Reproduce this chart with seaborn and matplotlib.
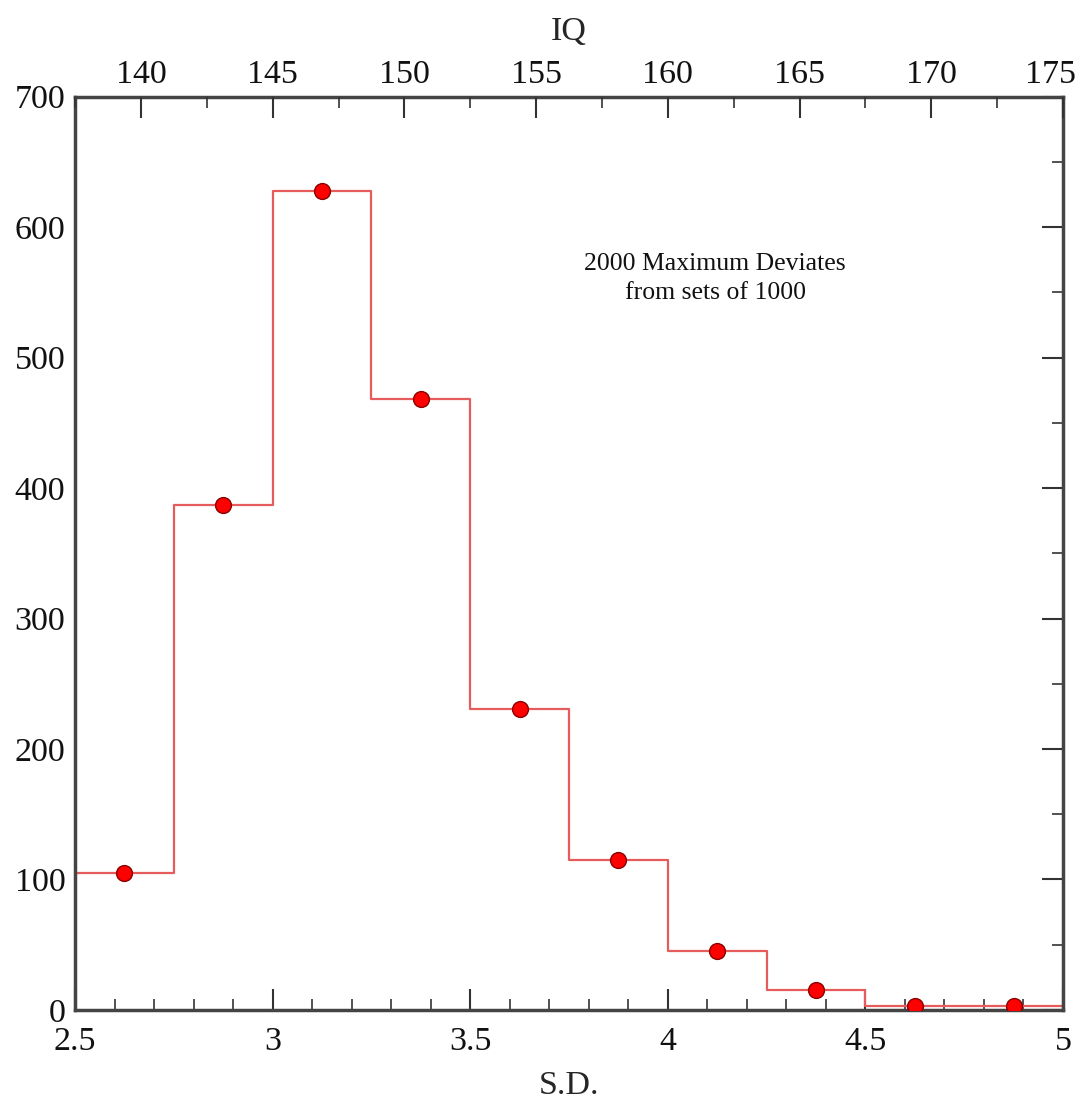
import numpy as np
import pandas as pd
import seaborn as sns
import matplotlib.pyplot as plt
from matplotlib.ticker import MultipleLocator
from matplotlib.transforms import ScaledTranslation

sns.set_style("white")
plt.rcParams['font.family'] = ['Liberation Serif', 'DejaVu Serif']

# histogram of maximum deviates (S.D.)
bin_edges = [2.5, 2.75, 3.0, 3.25, 3.5, 3.75, 4.0, 4.25, 4.5, 4.75, 5.0]
counts = [105, 387, 628, 468, 231, 115, 45, 15, 3, 3]
bin_centers = [2.625, 2.875, 3.125, 3.375, 3.625, 3.875, 4.125, 4.375, 4.625, 4.875]
iq_ticks = [140, 145, 150, 155, 160, 165, 170, 175]

steps = pd.DataFrame({'sd': bin_edges, 'n': counts + [counts[-1]]})
points = pd.DataFrame({'sd': bin_centers, 'n': counts})

fig, ax = plt.subplots(figsize=(10.88, 11.11), dpi=100)
fig.subplots_adjust(left=0.069, right=0.977, top=0.913, bottom=0.091)

sns.lineplot(data=steps, x='sd', y='n', estimator=None, drawstyle='steps-post',
             color='#e65c5c', linewidth=1.6, ax=ax)
sns.scatterplot(data=points, x='sd', y='n', color='#ff0000', edgecolor='#8b0000',
                linewidth=1, s=130, zorder=5, ax=ax)

ax.set_xlim(2.5, 5)
ax.set_ylim(0, 700)
ax.xaxis.set_major_locator(MultipleLocator(0.5))
ax.xaxis.set_minor_locator(MultipleLocator(0.1))
ax.yaxis.set_major_locator(MultipleLocator(100))
ax.yaxis.set_minor_locator(MultipleLocator(50))
ax.xaxis.set_major_formatter(plt.FuncFormatter(lambda v, p: f'{v:g}'))
ax.tick_params(which='both', direction='in', right=True, colors='#333333',
               labelcolor='#111111', labelsize=24.5)
ax.tick_params(which='major', length=15, width=1.5)
ax.tick_params(which='minor', length=8, width=1.2)
ax.tick_params(axis='x', pad=12)
ax.tick_params(axis='y', pad=7)
for s in ax.spines.values():
    s.set_color('#444444')
    s.set_linewidth(2.5)
    s.set_visible(True)

ax.set_xlabel('S.D.', fontsize=24.5, labelpad=10)
ax.set_ylabel('')

# IQ scale on top (IQ = 100 + 15 * S.D.)
top = ax.twiny()
top.set_xlim(100 + 15 * 2.5, 100 + 15 * 5)
top.set_xticks(iq_ticks)
top.xaxis.set_minor_locator(MultipleLocator(2.5))
top.tick_params(which='both', direction='in', colors='#333333', labelcolor='#111111',
                labelsize=24.5, pad=5)
top.tick_params(which='major', length=15, width=1.5)
top.tick_params(which='minor', length=8, width=1.2)
top.set_xlabel('IQ', fontsize=24.5, labelpad=14)
for s in top.spines.values():
    s.set_visible(False)

fig.canvas.draw()
last = top.get_xticklabels()[-1]
last.set_transform(last.get_transform() + ScaledTranslation(-0.12, 0, fig.dpi_scale_trans))

ax.text(4.12, 580, '2000 Maximum Deviates\nfrom sets of 1000', fontsize=18.5,
        ha='center', va='top', linespacing=1.4, color='#111111')

plt.savefig('out.png', dpi=100)
